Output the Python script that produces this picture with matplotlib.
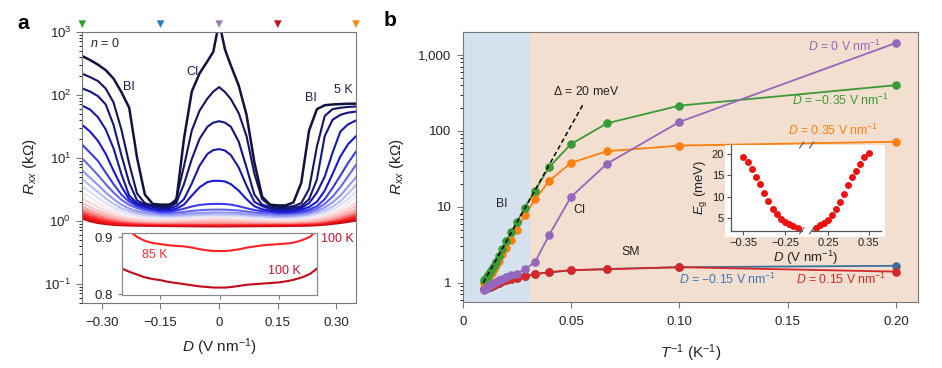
import numpy as np
import matplotlib
matplotlib.use('Agg')
import matplotlib.pyplot as plt
from matplotlib.colors import LinearSegmentedColormap
from matplotlib.patches import Rectangle
from matplotlib.ticker import LogLocator, NullFormatter, FixedFormatter

plt.rcParams['font.family'] = ['Liberation Sans', 'DejaVu Sans']
plt.rcParams['mathtext.fontset'] = 'custom'
plt.rcParams['mathtext.rm'] = 'Liberation Sans'
plt.rcParams['mathtext.it'] = 'Liberation Sans:italic'
plt.rcParams['mathtext.bf'] = 'Liberation Sans:bold'

# ---------------- panel a : Rxx vs D at 5 ... 100 K ----------------
D = [-0.35, -0.33, -0.31, -0.29, -0.27, -0.25, -0.23, -0.21, -0.19, -0.17, -0.15, -0.13,
     -0.11, -0.09, -0.07, -0.05, -0.03, -0.015, 0, 0.015, 0.03, 0.05, 0.07, 0.09, 0.11,
     0.13, 0.15, 0.17, 0.19, 0.21, 0.23, 0.25, 0.27, 0.29, 0.31, 0.33, 0.35]

r05 = [410, 355, 300, 245, 180, 110, 62, 10, 2.6, 1.85, 1.8, 1.8, 1.95, 20, 112, 219, 340, 480,
       1420, 520, 290, 140, 48, 8.5, 2.4, 1.8, 1.75, 1.75, 1.95, 4.0, 27, 59, 68, 70, 71, 72, 72]
r10 = [215, 190, 165, 125, 75, 28, 8, 2.7, 1.9, 1.75, 1.7, 1.7, 2.2, 7.3, 27, 56, 87, 112,
       132, 110, 85, 51, 22, 5.6, 2.2, 1.75, 1.65, 1.65, 1.7, 1.9, 3.2, 15, 46, 59, 62, 64, 65]
r15 = [126, 112, 95, 70, 33, 11, 4, 2.1, 1.8, 1.7, 1.62, 1.62, 1.9, 3.8, 9.5, 20, 31, 36,
       38, 36, 31, 18, 7, 2.6, 1.8, 1.65, 1.55, 1.55, 1.6, 1.7, 2.2, 4.5, 22, 40, 48, 52, 54]
r20 = [67, 58, 44, 28, 14, 5.5, 2.5, 1.9, 1.75, 1.65, 1.55, 1.55, 1.7, 2.2, 3.9, 7.5, 11.5, 13.2,
       13.7, 13, 11, 7, 3.6, 2.0, 1.7, 1.55, 1.48, 1.48, 1.5, 1.6, 1.9, 2.8, 5, 12, 26, 34, 39]
r25 = [33, 26, 18.5, 11.5, 6.2, 3.5, 2.2, 1.8, 1.65, 1.55, 1.47, 1.47, 1.55, 1.8, 2.5, 3.4, 4.1, 4.3,
       4.3, 4.2, 3.8, 3.0, 2.2, 1.7, 1.52, 1.45, 1.4, 1.4, 1.42, 1.5, 1.65, 2.0, 3.0, 5.5, 10.5, 16.5, 22]
r30 = [16, 12, 8.9, 5.8, 3.8, 2.6, 2.0, 1.7, 1.55, 1.47, 1.4, 1.4, 1.45, 1.55, 1.68, 1.78, 1.83, 1.85,
       1.85, 1.84, 1.8, 1.7, 1.58, 1.48, 1.42, 1.38, 1.33, 1.33, 1.35, 1.4, 1.5, 1.7, 2.2, 3.3, 5.2, 8.3, 12.5]
r35 = [9.7, 7.2, 5.3, 3.8, 2.8, 2.15, 1.78, 1.58, 1.46, 1.4, 1.33, 1.32, 1.34, 1.38, 1.43, 1.47, 1.49, 1.5,
       1.5, 1.5, 1.48, 1.45, 1.4, 1.35, 1.32, 1.3, 1.27, 1.27, 1.29, 1.33, 1.4, 1.55, 1.85, 2.4, 3.4, 5.1, 7.7]
r40 = [6.3, 4.8, 3.7, 2.8, 2.2, 1.8, 1.56, 1.42, 1.34, 1.3, 1.26, 1.25, 1.26, 1.28, 1.31, 1.33, 1.34, 1.35,
       1.35, 1.35, 1.34, 1.32, 1.29, 1.26, 1.24, 1.22, 1.2, 1.2, 1.22, 1.26, 1.32, 1.43, 1.62, 1.95, 2.5, 3.5, 4.9]
r45 = [4.6, 3.6, 2.85, 2.25, 1.85, 1.58, 1.42, 1.32, 1.26, 1.23, 1.2, 1.19, 1.2, 1.21, 1.23, 1.25, 1.26, 1.26,
       1.26, 1.26, 1.26, 1.25, 1.22, 1.2, 1.18, 1.16, 1.15, 1.15, 1.17, 1.2, 1.25, 1.33, 1.46, 1.68, 2.05, 2.7, 3.7]
r50 = [3.5, 2.85, 2.3, 1.9, 1.6, 1.42, 1.3, 1.23, 1.18, 1.16, 1.14, 1.13, 1.14, 1.15, 1.17, 1.19, 1.2, 1.2,
       1.2, 1.2, 1.2, 1.19, 1.17, 1.14, 1.12, 1.11, 1.1, 1.1, 1.11, 1.14, 1.18, 1.25, 1.35, 1.5, 1.78, 2.2, 2.9]
r55 = [2.8, 2.35, 1.95, 1.65, 1.42, 1.28, 1.19, 1.14, 1.11, 1.09, 1.08, 1.08, 1.09, 1.1, 1.12, 1.13, 1.14, 1.14,
       1.14, 1.14, 1.14, 1.13, 1.11, 1.09, 1.07, 1.06, 1.05, 1.05, 1.06, 1.08, 1.11, 1.16, 1.24, 1.36, 1.55, 1.88, 2.4]
r60 = [2.25, 1.92, 1.65, 1.43, 1.27, 1.17, 1.1, 1.06, 1.04, 1.02, 1.01, 1.01, 1.02, 1.03, 1.04, 1.05, 1.06, 1.06,
       1.06, 1.06, 1.06, 1.05, 1.04, 1.02, 1.01, 1.0, 0.99, 0.99, 1.0, 1.02, 1.05, 1.09, 1.15, 1.25, 1.4, 1.62, 1.95]
r65 = [1.9, 1.65, 1.45, 1.29, 1.17, 1.09, 1.04, 1.01, 0.99, 0.98, 0.975, 0.975, 0.98, 0.985, 0.99, 0.995, 1.0, 1.0,
       1.0, 1.0, 0.995, 0.99, 0.98, 0.975, 0.97, 0.965, 0.965, 0.965, 0.97, 0.98, 1.0, 1.03, 1.08, 1.16, 1.28, 1.46, 1.7]
r70 = [1.66, 1.47, 1.31, 1.19, 1.1, 1.04, 1.0, 0.975, 0.96, 0.952, 0.948, 0.946, 0.946, 0.946, 0.946, 0.946, 0.946, 0.946,
       0.946, 0.946, 0.946, 0.946, 0.945, 0.944, 0.943, 0.942, 0.942, 0.943, 0.946, 0.953, 0.965, 0.99, 1.03, 1.09, 1.18, 1.32, 1.5]
r75 = [1.5, 1.34, 1.21, 1.11, 1.04, 0.995, 0.968, 0.952, 0.942, 0.935, 0.93, 0.928, 0.927, 0.926, 0.925, 0.923, 0.921, 0.92,
       0.92, 0.92, 0.921, 0.923, 0.925, 0.927, 0.928, 0.929, 0.93, 0.931, 0.933, 0.937, 0.945, 0.962, 0.995, 1.045, 1.115, 1.215, 1.35]
r80 = [1.38, 1.24, 1.13, 1.055, 1.0, 0.965, 0.942, 0.928, 0.919, 0.913, 0.909, 0.907, 0.906, 0.905, 0.903, 0.901, 0.899, 0.898,
       0.898, 0.898, 0.899, 0.901, 0.903, 0.905, 0.906, 0.907, 0.908, 0.909, 0.911, 0.915, 0.922, 0.938, 0.968, 1.01, 1.07, 1.15, 1.25]
r85 = [1.28, 1.15, 1.06, 0.995, 0.955, 0.925, 0.912, 0.901, 0.894, 0.89, 0.888, 0.886, 0.885, 0.884, 0.882, 0.879, 0.877, 0.876,
       0.876, 0.876, 0.877, 0.879, 0.882, 0.884, 0.886, 0.887, 0.888, 0.889, 0.891, 0.895, 0.901, 0.915, 0.942, 0.98, 1.03, 1.09, 1.17]
r90 = [1.2, 1.08, 0.995, 0.94, 0.905, 0.885, 0.876, 0.872, 0.87, 0.868, 0.867, 0.865, 0.864, 0.862, 0.86, 0.858, 0.856, 0.855,
       0.855, 0.855, 0.856, 0.858, 0.86, 0.862, 0.864, 0.865, 0.866, 0.868, 0.87, 0.873, 0.879, 0.891, 0.915, 0.95, 0.995, 1.045, 1.1]
r95 = [1.13, 1.03, 0.955, 0.91, 0.88, 0.862, 0.856, 0.852, 0.85, 0.848, 0.846, 0.844, 0.842, 0.84, 0.838, 0.836, 0.834, 0.833,
       0.833, 0.833, 0.834, 0.836, 0.838, 0.84, 0.842, 0.843, 0.844, 0.846, 0.848, 0.851, 0.857, 0.868, 0.89, 0.92, 0.96, 1.0, 1.05]
r100 = [1.08, 0.98, 0.92, 0.885, 0.86, 0.846, 0.84, 0.835, 0.83, 0.827, 0.825, 0.822, 0.82, 0.818, 0.816, 0.814, 0.813, 0.812,
        0.812, 0.812, 0.813, 0.815, 0.817, 0.818, 0.819, 0.82, 0.821, 0.823, 0.826, 0.83, 0.836, 0.847, 0.865, 0.89, 0.92, 0.96, 1.0]

curves_a = [r05, r10, r15, r20, r25, r30, r35, r40, r45, r50,
            r55, r60, r65, r70, r75, r80, r85, r90, r95, r100]

# D values marked by triangles on top of panel a
D_marks = [-0.35, -0.15, 0, 0.15, 0.35]
mark_colors = ['#2ca02c', '#2b7bba', '#9f7fb8', '#c0101a', '#ff8214']

# ---------------- panel b : Rxx vs 1/T ----------------
T = [5, 10, 15, 20, 25, 30, 35, 40, 45, 50, 55, 60, 65, 70, 75, 80, 85, 90, 95, 100]
R_Dm035 = [400, 215, 126, 67, 33.5, 16.3, 9.7, 6.3, 4.6, 3.5, 2.8, 2.25, 1.9, 1.66, 1.5, 1.38, 1.28, 1.2, 1.13, 1.08]
R_D035 = [72, 64, 54, 38, 22, 12.5, 7.7, 4.9, 3.7, 2.9, 2.4, 1.95, 1.7, 1.5, 1.35, 1.25, 1.17, 1.1, 1.05, 1.0]
R_D0 = [1440, 131, 37, 13.5, 4.3, 1.85, 1.5, 1.32, 1.25, 1.19, 1.13, 1.08, 1.03, 0.99, 0.95, 0.92, 0.89, 0.86, 0.83, 0.80]
R_Dm015 = [1.67, 1.6, 1.52, 1.45, 1.37, 1.3, 1.23, 1.17, 1.12, 1.08, 1.04, 1.0, 0.97, 0.94, 0.91, 0.89, 0.875, 0.86, 0.84, 0.825]
R_D015 = [1.40, 1.6, 1.5, 1.47, 1.37, 1.3, 1.22, 1.17, 1.12, 1.08, 1.04, 1.0, 0.97, 0.94, 0.91, 0.89, 0.875, 0.86, 0.84, 0.825]

fit_invT = [0.0095, 0.0557]   # ends of the 20 meV activation line
fit_R = [1.0, 227]
bi_edge = 1 / 32             # shaded band boundary

# inset of b : gap vs D
D_gap_neg = [-0.35, -0.34, -0.33, -0.32, -0.31, -0.30, -0.29, -0.28, -0.27, -0.26, -0.25, -0.24, -0.23, -0.22]
Eg_neg = [19.4, 18.2, 16.5, 14.6, 12.85, 10.9, 9.0, 7.2, 5.85, 4.85, 4.05, 3.5, 3.05, 2.7]
D_gap_pos = [0.22, 0.23, 0.24, 0.25, 0.26, 0.27, 0.28, 0.29, 0.30, 0.31, 0.32, 0.33, 0.34, 0.35]
Eg_pos = [2.7, 3.25, 3.8, 4.6, 5.6, 7.0, 8.75, 10.7, 12.7, 14.5, 16.1, 17.6, 19.2, 20.3]

W, H = 942, 368
fig = plt.figure(figsize=(W / 100, H / 100), dpi=100)


def box(x0, y0, x1, y1):
    # pixel box (top-left origin) -> figure fraction rect
    return [x0 / W, 1 - y1 / H, (x1 - x0) / W, (y1 - y0) / H]


spine_col = '#777777'
txt_col = '#222222'

# ======== panel a ========
cmap = LinearSegmentedColormap.from_list('temp', [
    (0.0, '#121240'), (0.12, '#16168c'), (0.22, '#1818dc'), (0.30, '#5a5aee'),
    (0.40, '#a9b0f6'), (0.50, '#eceefc'), (0.55, '#fde4e4'), (0.70, '#fb9a9a'),
    (0.85, '#ff1c1c'), (1.0, '#c00a16')])
n = len(curves_a)
ax_a = fig.add_axes(box(82.3, 31.7, 356, 302.7))
for i in reversed(range(n)):
    ax_a.plot(D, curves_a[i], color=cmap(i / (n - 1)), lw=1.5 if i else 1.8, solid_joinstyle='round')
ax_a.set_yscale('log')
ax_a.set_xlim(-0.35, 0.35)
ax_a.set_ylim(0.05, 1000)
ax_a.set_xticks([-0.30, -0.15, 0, 0.15, 0.30])
ax_a.set_xticklabels(['\u22120.30', '\u22120.15', '0', '0.15', '0.30'])
ax_a.set_yticks([0.1, 1, 10, 100, 1000])
ax_a.set_yticklabels([r'$10^{-1}$', r'$10^{0}$', r'$10^{1}$', r'$10^{2}$', r'$10^{3}$'])
ax_a.yaxis.set_minor_locator(LogLocator(base=10, subs=np.arange(2, 10)))
ax_a.yaxis.set_minor_formatter(NullFormatter())
ax_a.tick_params(direction='out', length=4.5, width=0.8, labelsize=9.5, color=spine_col, labelcolor=txt_col)
ax_a.tick_params(axis='x', pad=6)
ax_a.tick_params(which='minor', length=2.5, width=0.6)
for s in ax_a.spines.values():
    s.set_color(spine_col)
    s.set_linewidth(0.8)
ax_a.set_xlabel(r'$D$ (V nm$^{-1}$)', fontsize=11, color=txt_col, labelpad=5)
ax_a.set_ylabel(r'$R_{xx}$ (k$\Omega$)', fontsize=11, color=txt_col, labelpad=4)

ax_a.scatter(D_marks, [1.028] * len(D_marks), marker='v', s=30, c=mark_colors,
             transform=ax_a.get_xaxis_transform(), clip_on=False, zorder=5, linewidths=0)

lab_col = '#1c1a48'
ax_a.text(-0.330, 640, r'$n$ = 0', fontsize=9, color=txt_col, va='center')
ax_a.text(-0.247, 134, 'BI', fontsize=9, color=lab_col, va='center')
ax_a.text(-0.0845, 231, 'CI', fontsize=9, color=lab_col, va='center')
ax_a.text(0.220, 90, 'BI', fontsize=9, color=lab_col, va='center')
ax_a.text(0.293, 120, '5 K', fontsize=9, color=lab_col, va='center')
ax_a.text(0.872, 0.235, '100 K', fontsize=9, color='#c8102e', va='center', transform=ax_a.transAxes)

# inset of a : 85 K and 100 K on a linear scale
ax_ai = fig.add_axes(box(121.7, 232.7, 317.3, 295))
ax_ai.plot(D, r85, color=cmap(16 / (n - 1)), lw=1.5)
ax_ai.plot(D, r100, color=cmap(1.0), lw=1.5)
ax_ai.set_xlim(-0.248, 0.248)
ax_ai.set_ylim(0.799, 0.908)
ax_ai.set_xticks([-0.15, 0, 0.15])
ax_ai.set_xticklabels([])
ax_ai.set_yticks([0.8, 0.9])
ax_ai.set_yticklabels(['0.8', '0.9'])
ax_ai.tick_params(direction='out', length=3, width=0.8, labelsize=9.5, color=spine_col, labelcolor=txt_col)
for s in ax_ai.spines.values():
    s.set_color('#8a8a8a')
    s.set_linewidth(0.9)
ax_ai.text(-0.196, 0.869, '85 K', fontsize=9, color='#ff2a2a', va='center')
ax_ai.text(0.1235, 0.841, '100 K', fontsize=9, color='#c8102e', va='center')

# ======== panel b ========
ax_b = fig.add_axes(box(462.7, 32.3, 918.2, 301.7))
ax_b.set_facecolor('#f3dfd0')
ax_b.axvspan(0, bi_edge, color='#d4e2ef', lw=0, zorder=0)
inv_T = [1 / t for t in T]
series = [(R_Dm015, '#3d6f9c'), (R_D015, '#d62728'), (R_D035, '#ff7f0e'),
          (R_Dm035, '#3a9a35'), (R_D0, '#9467bd')]
for z, (vals, col) in enumerate(series):
    ax_b.plot(inv_T, vals, '-o', color=col, ms=6.2, lw=1.3, mec='none', zorder=3 + z)
ax_b.plot(fit_invT, fit_R, color='black', lw=1.1, ls=(0, (3, 2)), zorder=9)
ax_b.set_yscale('log')
ax_b.set_xlim(0, 0.2103)
ax_b.set_ylim(0.562, 1990)
ax_b.set_xticks([0, 0.05, 0.10, 0.15, 0.20])
ax_b.set_xticklabels(['0', '0.05', '0.10', '0.15', '0.20'])
ax_b.set_yticks([1, 10, 100, 1000])
ax_b.yaxis.set_major_formatter(FixedFormatter(['1', '10', '100', '1,000']))
ax_b.yaxis.set_minor_locator(LogLocator(base=10, subs=np.arange(2, 10)))
ax_b.yaxis.set_minor_formatter(NullFormatter())
ax_b.tick_params(direction='out', length=4.5, width=0.8, labelsize=9.5, color=spine_col, labelcolor=txt_col)
ax_b.tick_params(axis='x', pad=6)
ax_b.tick_params(which='minor', length=2.5, width=0.6)
for s in ax_b.spines.values():
    s.set_color(spine_col)
    s.set_linewidth(0.8)
ax_b.set_xlabel(r'$T^{-1}$ (K$^{-1}$)', fontsize=11, color=txt_col, labelpad=10)
ax_b.set_ylabel(r'$R_{xx}$ (k$\Omega$)', fontsize=11, color=txt_col, labelpad=9)

fs = 8.8
ax_b.text(0.0416, 334, r'$\mathit{\Delta}$ = 20 meV', fontsize=fs, color=txt_col, va='center')
ax_b.text(0.0179, 10.9, 'BI', fontsize=fs, color=txt_col, ha='center', va='center')
ax_b.text(0.054, 9.1, 'CI', fontsize=fs, color=txt_col, ha='center', va='center')
ax_b.text(0.0776, 2.5, 'SM', fontsize=fs, color=txt_col, ha='center', va='center')
ax_b.text(0.193, 1300, r'$D$ = 0 V nm$^{-1}$', fontsize=fs, color='#9467bd', ha='right', va='center')
ax_b.text(0.197, 254, '$D$ = \u22120.35 V nm$^{-1}$', fontsize=fs,
          color='#3a9a35', ha='right', va='center')
ax_b.text(0.192, 101, r'$D$ = 0.35 V nm$^{-1}$', fontsize=fs, color='#ff7f0e', ha='right', va='center')
ax_b.text(0.100, 1.1, '$D$ = \u22120.15 V nm$^{-1}$', fontsize=fs, color='#3d78b4', va='center')
ax_b.text(0.154, 1.1, r'$D$ = 0.15 V nm$^{-1}$', fontsize=fs, color='#d62728', va='center')

# inset of b : broken D axis
fig.add_artist(Rectangle((725 / W, 1 - 237 / H), 160 / W, 92 / H, transform=fig.transFigure,
                         facecolor='white', edgecolor='none', zorder=1))
ax_l = fig.add_axes(box(731, 145, 801.7, 230.7), zorder=2)
ax_r = fig.add_axes(box(811.7, 145, 880.7, 230.7), zorder=2)
for ax in (ax_l, ax_r):
    ax.set_facecolor('white')
    ax.set_ylim(2, 22.1)
    ax.spines['top'].set_visible(False)
    ax.spines['right'].set_visible(False)
    for s in ax.spines.values():
        s.set_color('#555555')
        s.set_linewidth(0.9)
    ax.tick_params(direction='out', length=3, width=0.8, labelsize=8, color='#555555',
                   labelcolor=txt_col, pad=2)
ax_l.plot(D_gap_neg, Eg_neg, 'o', color='#f01010', ms=5, mec='none', clip_on=False)
ax_r.plot(D_gap_pos, Eg_pos, 'o', color='#f01010', ms=5, mec='none', clip_on=False)
ax_l.set_xlim(-0.38, -0.21)
ax_r.set_xlim(0.21, 0.38)
ax_l.set_xticks([-0.35, -0.25])
ax_l.set_xticklabels(['\u22120.35', '\u22120.25'])
ax_r.set_xticks([0.25, 0.35])
ax_r.set_xticklabels(['0.25', '0.35'])
ax_l.set_yticks([5, 10, 15, 20])
ax_r.set_yticks([])
ax_r.spines['left'].set_visible(False)
ax_l.set_ylabel(r'$E_{\rm g}$ (meV)', fontsize=9.5, color=txt_col, labelpad=2)
fig.text(806 / W, 1 - 258 / H, r'$D$ (V nm$^{-1}$)', fontsize=9.5, color=txt_col, ha='center', va='center')
kw = dict(color='#555555', lw=0.8, clip_on=False)
for ax, x0 in ((ax_l, 1.0), (ax_r, 0.0)):
    ax.plot([x0 - 0.03, x0 + 0.03], [-0.035, 0.035], transform=ax.transAxes, **kw)
    ax.plot([x0 - 0.03, x0 + 0.03], [0.965, 1.035], transform=ax.transAxes, **kw)

# panel letters
fig.text(17 / W, 1 - 14 / H, 'a', fontsize=15, fontweight='bold', va='top')
fig.text(384 / W, 1 - 11 / H, 'b', fontsize=15, fontweight='bold', va='top')

fig.savefig('out.png', dpi=100)
